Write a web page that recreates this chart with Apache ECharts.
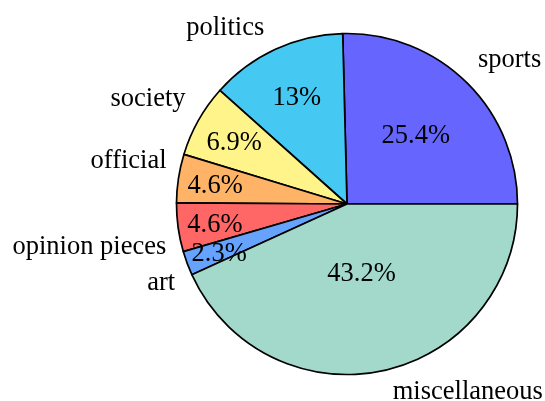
<!DOCTYPE html>
<html>
<head>
    <meta charset="UTF-8">
    <title>pie</title>
    <script src="https://cdn.jsdelivr.net/npm/echarts@6/dist/echarts.min.js"></script>
    <style>
        html, body { margin: 0; padding: 0; background: #fff; }
        #main { width: 545px; height: 401px; }
    </style>
</head>
<body>
<div id="main"></div>
<script>
    // 数据
    var categories = ['sports', 'politics', 'society', 'official', 'opinion pieces', 'art', 'miscellaneous'];
    var values = [25.4, 13, 6.9, 4.6, 4.6, 2.3, 43.2];
    var colors = ['#6666ff', '#45c8f2', '#fff48a', '#ffb366', '#ff6666', '#66a3ff', '#a3d9cb'];
    // 外部标签微调 (px)
    var nameNudge = [[0, 4], [-4, 8], [2, 0], [5, -1], [5, 4], [4, 0], [6, -9]];

    var cx = 347, cy = 204, r = 170.5;
    var fontFamily = '"Liberation Serif", "DejaVu Serif", serif';
    var fontSize = 26.5;

    var total = 0;
    for (var i = 0; i < values.length; i++) total += values[i];

    // 扇区中间角度（弧度），从0度开始逆时针
    function midAngle(idx) {
        var before = 0;
        for (var j = 0; j < idx; j++) before += values[j];
        return (before + values[idx] / 2) / total * Math.PI * 2;
    }

    var pieData = [];
    for (var i = 0; i < categories.length; i++) {
        pieData.push({ name: categories[i], value: values[i], itemStyle: { color: colors[i] } });
    }
    var nameData = [];
    for (var i = 0; i < categories.length; i++) {
        nameData.push({ name: categories[i], value: values[i] });
    }

    var myChart = echarts.init(document.getElementById('main'));
    var option = {
        animation: false,
        series: [{
            type: 'pie',
            center: [cx, cy],
            radius: [0, r],
            startAngle: 0,
            clockwise: false,
            avoidLabelOverlap: false,
            data: pieData,
            itemStyle: { borderColor: '#000', borderWidth: 1.7, borderJoin: 'round' },
            emphasis: { disabled: true },
            labelLine: { show: false },
            label: {
                position: 'inside',
                formatter: '{c}%',
                color: '#000',
                fontSize: fontSize,
                fontFamily: fontFamily
            },
            labelLayout: function (p) {
                var a = midAngle(p.dataIndex);
                var span = values[p.dataIndex] / total * 360;
                // 扇区越大，百分比越靠近圆心
                var k = 0.8 + Math.max(Math.min(-(span - 10) * 0.3 / 110, 0), -0.5);
                return { x: cx + k * r * Math.cos(a), y: cy - k * r * Math.sin(a) + 2.5, align: 'center', verticalAlign: 'middle' };
            }
        }, {
            type: 'pie',
            silent: true,
            center: [cx, cy],
            radius: [0, r],
            startAngle: 0,
            clockwise: false,
            avoidLabelOverlap: false,
            data: nameData,
            itemStyle: { color: 'rgba(0,0,0,0)', borderWidth: 0 },
            labelLine: { show: false },
            label: {
                position: 'inside',
                formatter: '{b}',
                color: '#000',
                fontSize: fontSize,
                fontFamily: fontFamily
            },
            labelLayout: function (p) {
                var a = midAngle(p.dataIndex);
                var R = r * 1.1;
                var c = Math.cos(a), s = Math.sin(a);
                var n = nameNudge[p.dataIndex];
                return {
                    x: cx + R * c + n[0],
                    y: cy - R * s + n[1],
                    align: c > 0 ? 'left' : 'right',
                    verticalAlign: s > 0 ? 'bottom' : 'top'
                };
            }
        }]
    };
    myChart.setOption(option);
</script>
</body>
</html>
